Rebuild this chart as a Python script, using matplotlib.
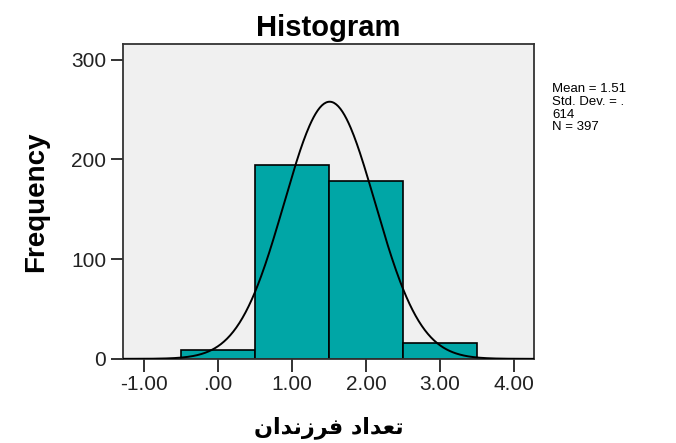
import numpy as np
import matplotlib.pyplot as plt

# number of children per respondent, binned at whole values
child_counts = [0, 1, 2, 3]
frequencies = [9, 194, 178, 16]

n_total = 397
mean_val = 1.51
sd_val = 0.614

x_ticks = [-1, 0, 1, 2, 3, 4]
x_ticklabels = ["-1.00", ".00", "1.00", "2.00", "3.00", "4.00"]
y_ticks = [0, 100, 200, 300]

x_label = "تعداد فرزندان"

# presentation forms: isolated, final, initial, medial
FORMS = {
    "ا": ("\uFE8D", "\uFE8E", None, None),
    "ت": ("\uFE95", "\uFE96", "\uFE97", "\uFE98"),
    "ع": ("\uFEC9", "\uFECA", "\uFECB", "\uFECC"),
    "د": ("\uFEA9", "\uFEAA", None, None),
    "ف": ("\uFED1", "\uFED2", "\uFED3", "\uFED4"),
    "ر": ("\uFEAD", "\uFEAE", None, None),
    "ز": ("\uFEAF", "\uFEB0", None, None),
    "ن": ("\uFEE5", "\uFEE6", "\uFEE7", "\uFEE8"),
}


def shape_rtl(text):
    out = []
    for i, ch in enumerate(text):
        if ch not in FORMS:
            out.append(ch)
            continue
        iso, fin, ini, med = FORMS[ch]
        prev = text[i - 1] if i > 0 else " "
        nxt = text[i + 1] if i + 1 < len(text) else " "
        join_prev = prev in FORMS and FORMS[prev][2] is not None
        join_next = nxt in FORMS and ini is not None
        if join_prev and join_next:
            out.append(med)
        elif join_prev:
            out.append(fin)
        elif join_next:
            out.append(ini)
        else:
            out.append(iso)
    return "".join(reversed(out))


plt.rcParams['font.family'] = ['Liberation Sans', 'DejaVu Sans']

fig = plt.figure(figsize=(6.76, 4.43), dpi=100)
ax = fig.add_axes([0.182, 0.19, 0.608, 0.711])
ax.set_facecolor('#F0F0F0')

ax.bar(child_counts, frequencies, width=1.0, color='#00A6A6',
       edgecolor='black', linewidth=1.2, zorder=2)

# normal curve scaled to counts (bin width 1)
xs = np.linspace(-1.28, 4.27, 400)
ys = n_total / (sd_val * np.sqrt(2 * np.pi)) * np.exp(-0.5 * ((xs - mean_val) / sd_val) ** 2)
ax.plot(xs, ys, color='black', linewidth=1.4, zorder=3)

ax.set_xlim(-1.28, 4.27)
ax.set_ylim(0, 316)
ax.set_xticks(x_ticks)
ax.set_xticklabels(x_ticklabels)
ax.set_yticks(y_ticks)
ax.tick_params(direction='out', length=9, width=1.3, labelsize=15, colors='#222222', pad=3)
for sp in ax.spines.values():
    sp.set_linewidth(1.3)
    sp.set_color('#333333')

ax.set_title("Histogram", fontsize=21, fontweight='bold', pad=6)
ax.set_ylabel("Frequency", fontsize=20, fontweight='bold', labelpad=16)
ax.set_xlabel(shape_rtl(x_label), fontsize=16, fontweight='bold',
              family='DejaVu Sans', labelpad=16)

stats = f"Mean = {mean_val}\nStd. Dev. = .\n{str(sd_val)[2:]}\nN = {n_total}"
fig.text(0.817, 0.812, stats, fontsize=9.5, va='top', ha='left', linespacing=1.08)

fig.savefig("out.png", dpi=100)
